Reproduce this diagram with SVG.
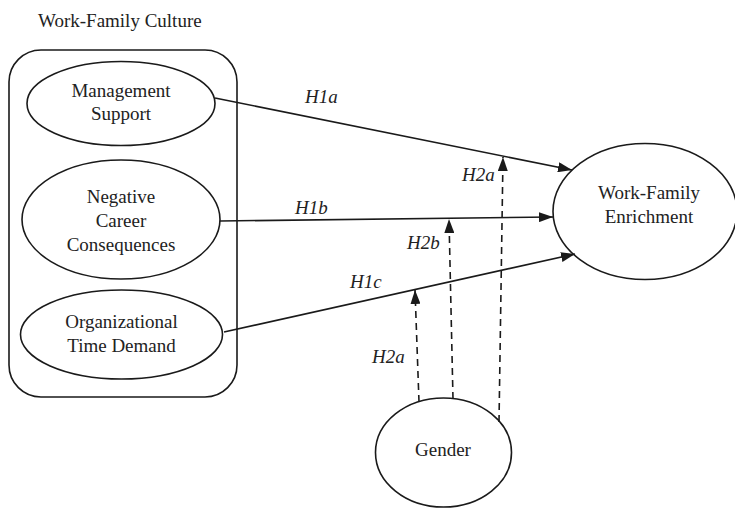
<svg xmlns="http://www.w3.org/2000/svg" width="735" height="508" viewBox="0 0 735 508">
<defs>
<style>
text{font-family:"Liberation Serif","Times New Roman",serif;font-size:19px;fill:#222;}
.c{text-anchor:middle;}
.i{font-style:italic;}
.s{fill:none;stroke:#1a1a1a;stroke-width:1.6;}
.d{fill:none;stroke:#1a1a1a;stroke-width:1.6;stroke-dasharray:7 5;}
</style>
<marker id="ah" viewBox="0 0 14 10" refX="14" refY="5" markerWidth="14" markerHeight="10" markerUnits="userSpaceOnUse" orient="auto">
<path d="M0,0 L14,5 L0,10 Z" fill="#1a1a1a"/>
</marker>
</defs>
<rect width="735" height="508" fill="#fff"/>
<g id="culture">
<text x="38" y="27">Work-Family Culture</text>
<rect class="s" x="9" y="50" width="228" height="347" rx="32" ry="32"/>
</g>
<g id="management">
<ellipse class="s" cx="121" cy="103.5" rx="94" ry="42"/>
<text class="c" x="121" y="97">Management</text>
<text class="c" x="121" y="120">Support</text>
</g>
<g id="negative">
<ellipse class="s" cx="121" cy="219.5" rx="99" ry="59.5"/>
<text class="c" x="121" y="203">Negative</text>
<text class="c" x="121" y="227">Career</text>
<text class="c" x="121" y="251">Consequences</text>
</g>
<g id="orgtime">
<ellipse class="s" cx="121.5" cy="334.5" rx="101" ry="44.5"/>
<text class="c" x="121.5" y="328">Organizational</text>
<text class="c" x="121.5" y="352">Time Demand</text>
</g>
<g id="enrichment">
<ellipse class="s" cx="645" cy="211.5" rx="92" ry="68"/>
<text class="c" x="649" y="199">Work-Family</text>
<text class="c" x="649" y="223">Enrichment</text>
</g>
<g id="gender">
<ellipse class="s" cx="443.5" cy="452.5" rx="68" ry="54.5"/>
<text class="c" x="443" y="456">Gender</text>
</g>
<g id="connectors">
<line class="s" x1="215" y1="98" x2="572" y2="170" marker-end="url(#ah)"/>
<line class="s" x1="220" y1="221" x2="553" y2="217" marker-end="url(#ah)"/>
<line class="s" x1="224" y1="332" x2="575" y2="254" marker-end="url(#ah)"/>
<line class="d" x1="419" y1="402" x2="415" y2="290" marker-end="url(#ah)"/>
<line class="d" x1="453" y1="399" x2="449" y2="219" marker-end="url(#ah)"/>
<line class="d" x1="499" y1="422" x2="503" y2="157" marker-end="url(#ah)"/>
<text class="i" x="305" y="103">H1a</text>
<text class="i" x="462" y="181">H2a</text>
<text class="i" x="295" y="214">H1b</text>
<text class="i" x="407" y="249">H2b</text>
<text class="i" x="350" y="288">H1c</text>
<text class="i" x="372" y="363">H2a</text>
</g>
</svg>
